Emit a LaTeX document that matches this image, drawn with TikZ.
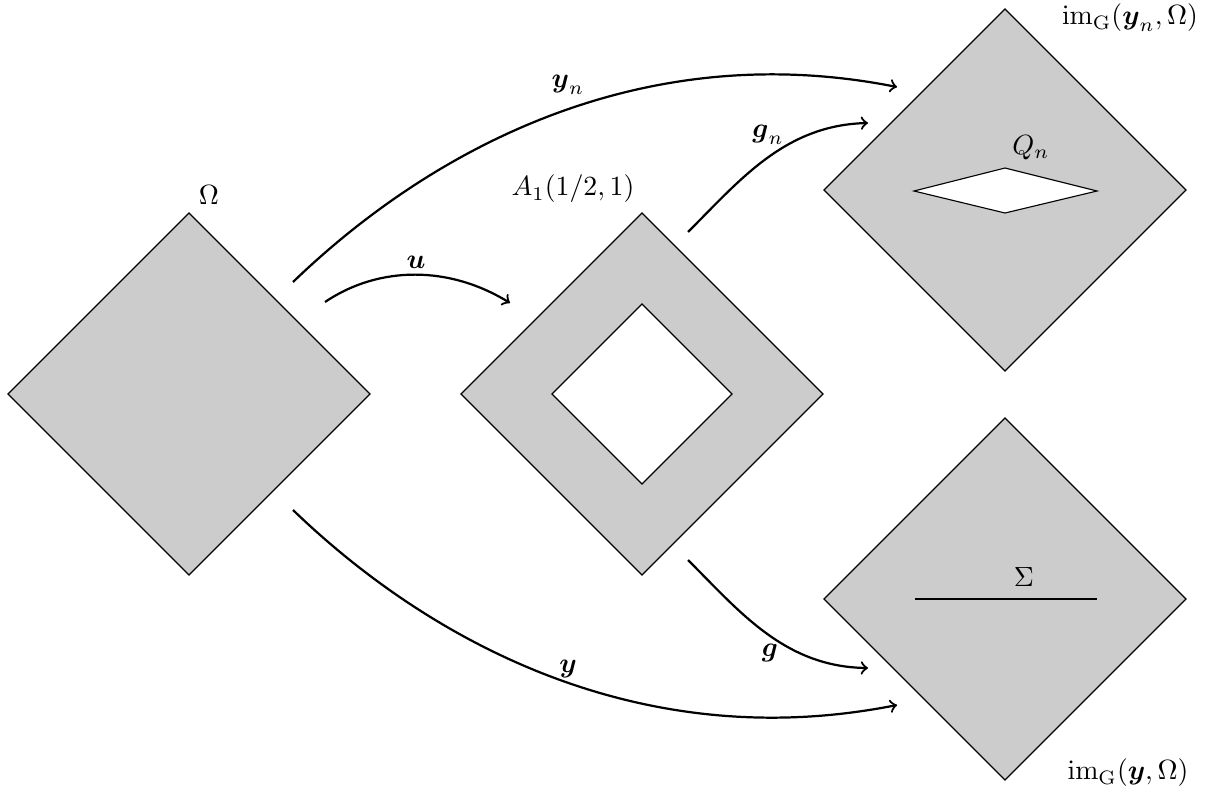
\documentclass[tikz,border=0pt]{standalone}
\usepackage{amsmath}
\begin{document}
\begin{tikzpicture}[x=0.36pt,y=-0.36pt,
  region/.style={draw=black,fill=black!20,line width=0.4pt},
  hole/.style={draw=black,fill=white,line width=0.4pt},
  map/.style={->,thick},
  lbl/.style={inner sep=0pt}]
\useasboundingbox (0,0) rectangle (1211,797);

% domain Omega
\draw[region] (8,394) -- (189,213) -- (370,394) -- (189,575) -- cycle;
\node[lbl] (omega) at (209,195) {$\Omega$};

% annulus A_1(1/2,1)
\draw[region] (461,394) -- (642,213) -- (823,394) -- (642,575) -- cycle;
\draw[hole] (552,394) -- (642,304) -- (732,394) -- (642,484) -- cycle;
\node[lbl] (ann) at (573,189) {$A_1(1/2,1)$};

% image of y_n with cavity Q_n
\draw[region] (824,190) -- (1005,9) -- (1186,190) -- (1005,371) -- cycle;
\draw[hole] (914,191) -- (1005,168) -- (1097,191) -- (1005,213) -- cycle;
\node[lbl] (qn) at (1031,148) {$Q_n$};
\node[lbl] (imyn) at (1130,18) {$\mathrm{im}_{\mathrm{G}}(\boldsymbol{y}_n,\Omega)$};

% image of y with crack Sigma
\draw[region] (824,599) -- (1005,418) -- (1186,599) -- (1005,780) -- cycle;
\coordinate (s1) at (915,599);
\coordinate (s2) at (1097,599);
\draw[line width=0.4pt] (s1) -- (s2);
\node[lbl] (sigma) at (1024,577) {$\Sigma$};
\node[lbl] (imy) at (1128,773) {$\mathrm{im}_{\mathrm{G}}(\boldsymbol{y},\Omega)$};

% maps
\coordinate (a1) at (293,282);
\coordinate (b1) at (897,87);
\draw[map] (a1) .. controls (430,150) and (640,36) .. (b1);
\node[lbl] (lyn) at (568,85) {$\boldsymbol{y}_n$};

\coordinate (a2) at (293,510);
\coordinate (b2) at (897,705);
\draw[map] (a2) .. controls (430,642) and (640,756) .. (b2);
\node[lbl] (ly) at (568,669) {$\boldsymbol{y}$};

\coordinate (a3) at (325,302);
\coordinate (b3) at (510,303);
\draw[map] (a3) .. controls (380,265) and (450,266) .. (b3);
\node[lbl] (lu) at (416,262) {$\boldsymbol{u}$};

\coordinate (a4) at (688,232);
\coordinate (b4) at (868,123);
\draw[map] (a4) .. controls (740,180) and (785,125) .. (b4);
\node[lbl] (lgn) at (768,135) {$\boldsymbol{g}_n$};

\coordinate (a5) at (688,560);
\coordinate (b5) at (868,668);
\draw[map] (a5) .. controls (740,612) and (785,667) .. (b5);
\node[lbl] (lg) at (770,653) {$\boldsymbol{g}$};
\end{tikzpicture}
\end{document}
